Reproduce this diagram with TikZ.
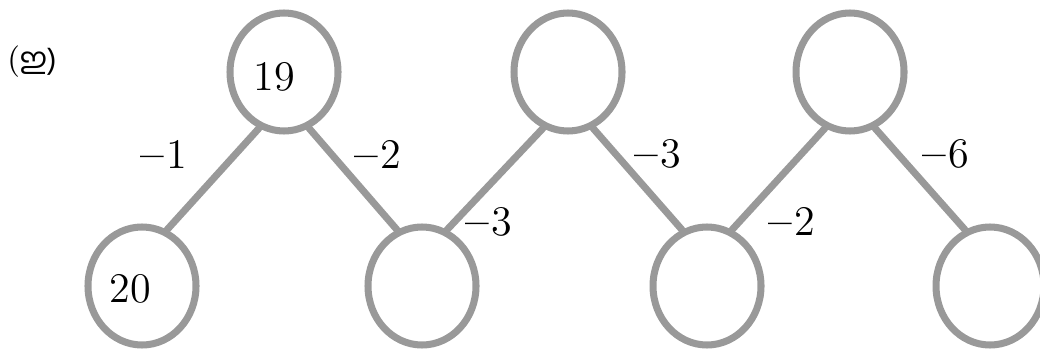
\documentclass[tikz,border=0pt]{standalone}
\usepackage{fontspec}
\newfontfamily\malfont[Script=Malayalam,Scale=0.95]{Hind Kochi}
\usetikzlibrary{shapes.geometric}
\tikzset{
	knot/.style={draw=black!40,line width=2pt,ellipse,minimum width=1.08cm,minimum height=1.18cm,inner sep=0pt},
	edge/.style={draw=black!40,line width=2pt},
	wt/.style={inner sep=0pt,font=\fontsize{12}{14}\selectfont}
}
\newcommand{\wneg}[1]{{\bfseries --}\kern0.5pt#1}
\begin{document}
\begin{tikzpicture}[line cap=round,line join=round,x=1.0cm,y=1.0cm]
		\useasboundingbox (0,0) rectangle (10.4,3.49);
		\node[inner sep=0pt,font=\fontsize{9}{11}\selectfont] (tag) at (0.32,2.87) {(\malfont ഇ)};
		% top row
		\node[knot] (t1) at (2.84,2.77) {};
		\node[knot] (t2) at (5.68,2.77) {};
		\node[knot] (t3) at (8.50,2.77) {};
		% bottom row
		\node[knot] (b1) at (1.42,0.63) {};
		\node[knot] (b2) at (4.22,0.63) {};
		\node[knot] (b3) at (7.07,0.63) {};
		\node[knot] (b4) at (9.90,0.63) {};
		\draw[edge] (t1.-114) -- (b1.66);
		\draw[edge] (t1.-66) -- (b2.114);
		\draw[edge] (t2.-114) -- (b2.66);
		\draw[edge] (t2.-66) -- (b3.114);
		\draw[edge] (t3.-114) -- (b3.66);
		\draw[edge] (t3.-66) -- (b4.114);
		\node[wt] (v19) at (2.74,2.72) {19};
		\node[wt] (v20) at (1.30,0.60) {20};
		\node[wt] (w1) at (1.64,1.95) {\wneg{1}};
		\node[wt] (w2) at (3.78,1.95) {\wneg{2}};
		\node[wt] (w3) at (4.89,1.27) {\wneg{3}};
		\node[wt] (w4) at (6.58,1.95) {\wneg{3}};
		\node[wt] (w5) at (7.92,1.28) {\wneg{2}};
		\node[wt] (w6) at (9.46,1.95) {\wneg{6}};
	\end{tikzpicture}
\end{document}
